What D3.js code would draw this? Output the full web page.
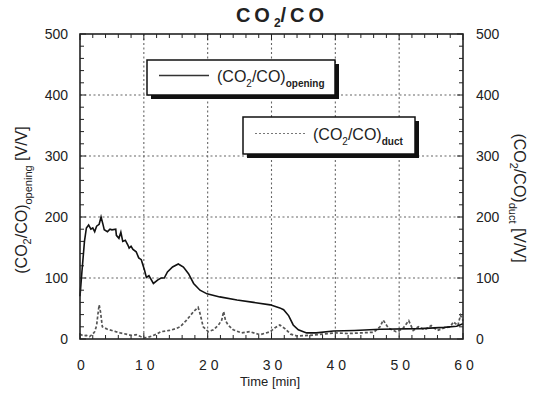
<!DOCTYPE html>
<html>
<head>
<meta charset="utf-8">
<script src="https://cdn.jsdelivr.net/npm/d3@7/dist/d3.min.js"></script>
<style>
  html, body { margin: 0; padding: 0; background: #fff; }
  svg { display: block; }
  text { font-family: "Liberation Sans", Arial, sans-serif; fill: #222; }
</style>
</head>
<body>
<svg id="chart" width="539" height="395"></svg>
<script>
// Time axis [min] and ratio values [V/V]
const openingTime = [0, 0.3, 0.7, 1.0, 1.35, 1.7, 2.0, 2.3, 2.6, 3.0, 3.3, 3.6, 3.8, 4.3, 4.7, 5.0, 5.6, 5.7, 6.1, 6.4, 6.7, 7.1, 7.5, 7.7, 8.0, 8.3, 8.8, 9.2, 9.6, 10.1, 10.4, 10.8, 11.5, 12.2, 12.7, 13.2, 13.7, 14.5, 15.4, 16.2, 17.0, 17.8, 18.8, 19.9, 21.9, 24.6, 27.2, 29.8, 31.3, 31.9, 32.7, 33.4, 34.2, 35.5, 37, 39.7, 43, 47, 53.3, 57, 59, 60];
const openingValue = [70, 110, 160, 182, 187, 180, 182, 176, 185, 188, 200, 188, 179, 176, 180, 179, 180, 170, 165, 175, 160, 162, 154, 149, 152, 147, 143, 133, 130, 113, 101, 104, 91, 97, 100, 100, 110, 118, 123, 118, 107, 91, 80, 74, 69, 64, 60, 56, 51, 48, 38, 23, 15, 10, 10, 13, 14, 16, 17, 19, 21, 25];

const ductTime = [0, 0.5, 1, 1.5, 2.0, 2.3, 2.6, 2.8, 3.0, 3.2, 3.3, 3.5, 4.3, 5.0, 5.6, 6.3, 7.2, 8, 8.8, 9.5, 10.1, 10.7, 11.3, 12, 12.7, 14, 15, 15.7, 16.7, 17.8, 18.5, 18.8, 19.3, 20.1, 20.9, 21.7, 22.2, 22.5, 22.8, 23.2, 24, 25.3, 26.6, 28.2, 29.8, 30.5, 31.3, 32.1, 33, 34, 36, 38, 40, 42, 44, 46, 47, 47.5, 48.3, 49.5, 50.5, 51.5, 52.2, 53, 54, 55, 56, 57, 58, 58.5, 59.2, 59.6, 60];
const ductValue = [8, 5, 6, 4, 8, 12, 22, 40, 56, 45, 37, 20, 16, 14, 12, 10, 8, 6, 7, 4, 2, 3, 5, 8, 12, 14, 17, 20, 31, 45, 52, 42, 20, 12, 15, 23, 31, 45, 30, 23, 15, 10, 12, 7, 12, 18, 23, 17, 8, 5, 6, 8, 10, 9, 10, 11, 20, 31, 18, 12, 16, 30, 14, 20, 15, 22, 14, 18, 20, 28, 22, 39, 30];

const xTicks = [0, 10, 20, 30, 40, 50, 60];
const yTicks = [0, 100, 200, 300, 400, 500];

const svg = d3.select("#chart");
const m = { left: 80, right: 463, top: 34, bottom: 339 };

const x = d3.scaleLinear().domain([0, 60]).range([m.left, m.right]);
const y = d3.scaleLinear().domain([0, 500]).range([m.bottom, m.top]);

// Dotted grid at every major tick
const grid = svg.append("g").attr("stroke", "#666").attr("stroke-width", 1.1).attr("stroke-dasharray", "2,2.5");
xTicks.slice(1, -1).forEach(t => grid.append("line").attr("x1", x(t)).attr("x2", x(t)).attr("y1", m.top).attr("y2", m.bottom));
yTicks.slice(1, -1).forEach(v => grid.append("line").attr("x1", m.left).attr("x2", m.right).attr("y1", y(v)).attr("y2", y(v)));

// Inward ticks on all four sides
const minorX = d3.range(0, 61, 2);
const minorY = d3.range(0, 501, 20);
const tk = svg.append("g").attr("stroke", "#222").attr("stroke-width", 1);
minorX.forEach(t => {
  const len = t % 10 === 0 ? 6 : 4;
  tk.append("line").attr("x1", x(t)).attr("x2", x(t)).attr("y1", m.bottom).attr("y2", m.bottom - len);
  tk.append("line").attr("x1", x(t)).attr("x2", x(t)).attr("y1", m.top).attr("y2", m.top + len);
});
minorY.forEach(v => {
  const len = v % 100 === 0 ? 6 : 4;
  tk.append("line").attr("x1", m.left).attr("x2", m.left + len).attr("y1", y(v)).attr("y2", y(v));
  tk.append("line").attr("x1", m.right).attr("x2", m.right - len).attr("y1", y(v)).attr("y2", y(v));
});

// Series
const line = d3.line().x(d => x(d[0])).y(d => y(d[1]));
svg.append("path")
  .datum(d3.zip(ductTime, ductValue))
  .attr("d", line).attr("fill", "none")
  .attr("stroke", "#555").attr("stroke-width", 1.7).attr("stroke-dasharray", "3,2");
svg.append("path")
  .datum(d3.zip(openingTime, openingValue))
  .attr("d", line).attr("fill", "none")
  .attr("stroke", "#111").attr("stroke-width", 1.6);

// Frame
svg.append("rect").attr("x", m.left).attr("y", m.top).attr("width", m.right - m.left).attr("height", m.bottom - m.top)
  .attr("fill", "none").attr("stroke", "#222").attr("stroke-width", 1.6);

// Tick labels
svg.append("g").selectAll("text").data(yTicks).join("text")
  .attr("x", 68).attr("y", d => y(d) + 5).attr("text-anchor", "end")
  .attr("font-size", 14).text(d => d);
svg.append("g").selectAll("text").data(yTicks).join("text")
  .attr("x", 476).attr("y", d => y(d) + 5).attr("text-anchor", "start")
  .attr("font-size", 14).text(d => d);
svg.append("g").selectAll("text").data(xTicks).join("text")
  .attr("x", d => x(d) + 3).attr("y", 370).attr("text-anchor", "middle")
  .attr("font-size", 14).attr("letter-spacing", "4px")
  .text(d => d);

// Title
const title = svg.append("text").attr("x", 282).attr("y", 22).attr("text-anchor", "middle")
  .attr("font-size", 20).attr("font-weight", "bold").attr("letter-spacing", "4px");
title.append("tspan").text("CO");
title.append("tspan").attr("font-size", 12).attr("dy", 5).attr("letter-spacing", "0px").text("2");
title.append("tspan").attr("dy", -5).text("/CO");

// Axis titles
svg.append("text").attr("x", 270).attr("y", 386).attr("text-anchor", "middle")
  .attr("font-size", 13).text("Time [min]");

const yl = svg.append("text").attr("transform", "translate(27,200) rotate(-90)")
  .attr("text-anchor", "middle").attr("font-size", 16);
yl.append("tspan").text("(CO");
yl.append("tspan").attr("font-size", 11).attr("dy", 4).text("2");
yl.append("tspan").attr("dy", -4).text("/CO)");
yl.append("tspan").attr("font-size", 11).attr("dy", 5).text("opening");
yl.append("tspan").attr("dy", -5).text("  [V/V]");

const yr = svg.append("text").attr("transform", "translate(514,198) rotate(90)")
  .attr("text-anchor", "middle").attr("font-size", 16);
yr.append("tspan").text("(CO");
yr.append("tspan").attr("font-size", 11).attr("dy", 4).text("2");
yr.append("tspan").attr("dy", -4).text("/CO)");
yr.append("tspan").attr("font-size", 11).attr("dy", 5).text("duct");
yr.append("tspan").attr("dy", -5).text("  [V/V]");

// Legend boxes with drop shadow
function legendBox(bx, by, bw, bh, dashed, sub) {
  const g = svg.append("g");
  g.append("rect").attr("x", bx + 4).attr("y", by + 4).attr("width", bw).attr("height", bh).attr("fill", "#111");
  g.append("rect").attr("x", bx).attr("y", by).attr("width", bw).attr("height", bh)
    .attr("fill", "#fff").attr("stroke", "#111").attr("stroke-width", 1.5);
  g.append("line").attr("x1", bx + 12).attr("x2", bx + 62).attr("y1", by + bh / 2 - 2).attr("y2", by + bh / 2 - 2)
    .attr("stroke", dashed ? "#777" : "#333").attr("stroke-width", dashed ? 1.2 : 1.3)
    .attr("stroke-dasharray", dashed ? "2,2" : null);
  const t = g.append("text").attr("x", bx + 70).attr("y", by + bh / 2 + 4).attr("font-size", 16);
  t.append("tspan").text("(CO");
  t.append("tspan").attr("font-size", 10).attr("dy", 5).text("2");
  t.append("tspan").attr("dy", -5).text("/CO)");
  t.append("tspan").attr("font-size", 10).attr("dy", 5).attr("font-weight", "bold").text(sub);
}
legendBox(147, 60, 188, 35, false, "opening");
legendBox(243, 117, 172, 37, true, "duct");
</script>
</body>
</html>
